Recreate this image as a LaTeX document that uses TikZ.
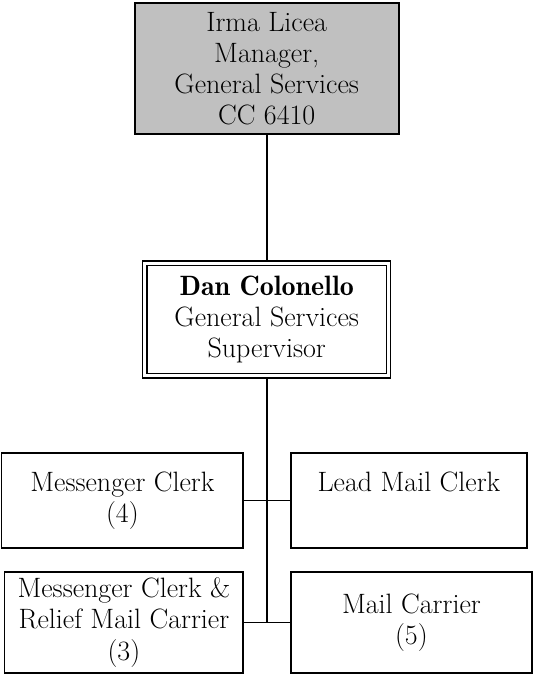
\documentclass[tikz,border=0pt]{standalone}
\usepackage{tikz}
\definecolor{mgrgray}{RGB}{192,192,192}
\tikzset{every picture/.style={line width=1.4pt}}
\tikzset{
  orgbox/.style={draw, rectangle, inner sep=0pt, align=center,
    font=\fontsize{21}{23.3}\selectfont},
  orgline/.style={draw, line width=1.4pt}
}

\begin{document}
\begin{tikzpicture}[x=0.75pt,y=0.75pt,yscale=-1,xscale=1]
\useasboundingbox (0,0) rectangle (533,675);

%Rect: manager
\node (mgr) [orgbox, fill=mgrgray, minimum width=264*0.75pt, minimum height=131*0.75pt] at (266.7,68.5)
  {Irma Licea\\Manager,\\General Services\\CC 6410};
%Double Rect: supervisor
\node (sup) [orgbox, double, double distance=2.2pt, line width=1.1pt, outer sep=2.2pt, minimum width=243.5*0.75pt, minimum height=112.7*0.75pt] at (266.7,319.6)
  {{\fontseries{b}\selectfont Dan Colonello}\\General Services\\Supervisor};

%Rect: first row
\node (msgclerk) [orgbox, minimum width=241.8*0.75pt, minimum height=95*0.75pt] at (122.4,500.5)
  {Messenger Clerk\\(4)};
\node (leadclerk) [orgbox, minimum width=236.3*0.75pt, minimum height=95*0.75pt] at (408.9,500.5)
  {Lead Mail Clerk\\\phantom{(4)}};
%Rect: second row
\node (relief) [orgbox, minimum width=238.8*0.75pt, minimum height=101*0.75pt] at (123.9,622.5)
  {Messenger Clerk \&\\Relief Mail Carrier\\(3)};
\node (carrier) [orgbox, minimum width=241.3*0.75pt, minimum height=101*0.75pt] at (411.4,622.5)
  {Mail Carrier\\(5)};

%Straight Lines
\coordinate (trunkend) at (sup.south |- relief.east);
\draw [orgline] (mgr.south) -- (sup.north);
\draw [orgline] (sup.south) -- (trunkend);
\draw [orgline] (msgclerk.east) -- (leadclerk.west);
\draw [orgline] (relief.east) -- (carrier.west);

\end{tikzpicture}
\end{document}
